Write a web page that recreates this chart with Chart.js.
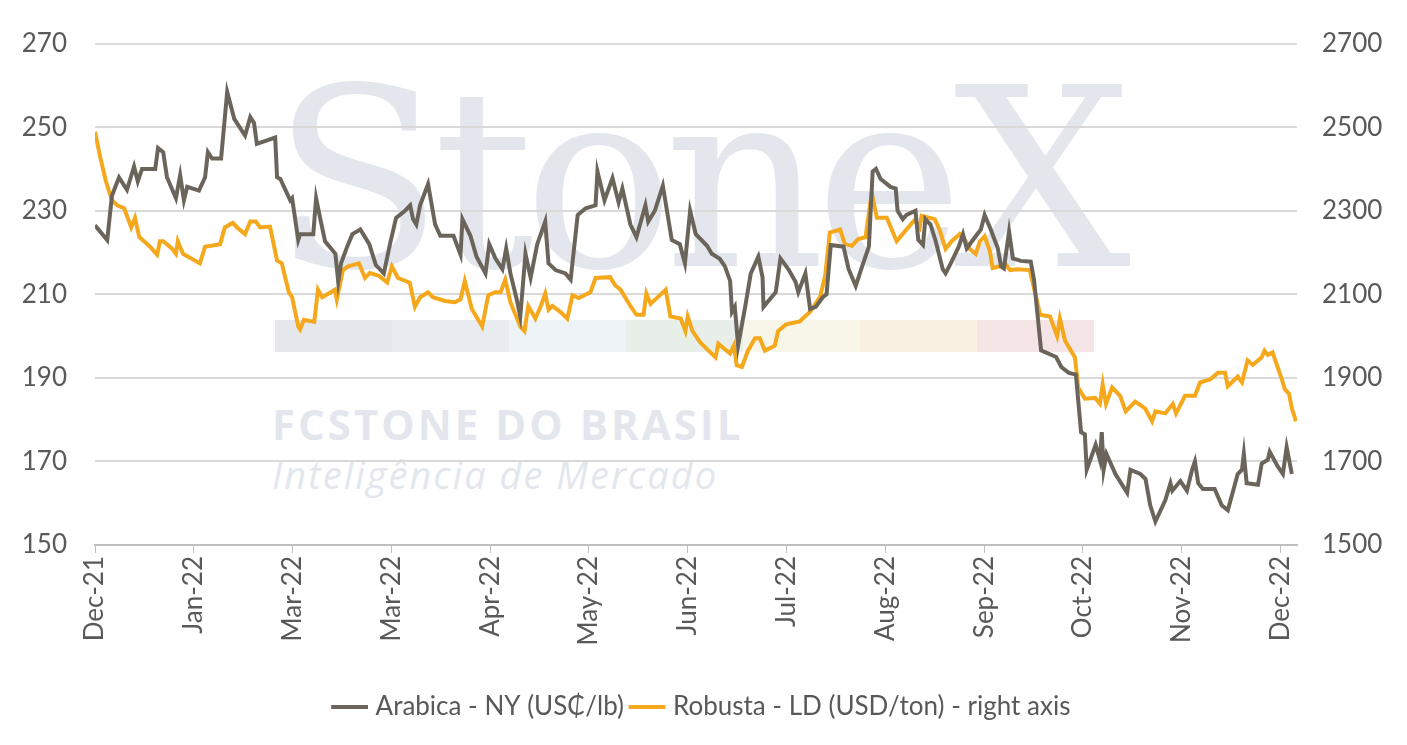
<!DOCTYPE html>
<html>
<head>
<meta charset="utf-8">
<script src="https://cdn.jsdelivr.net/npm/chart.js@4"></script>
<style>
  body { margin: 0; background: #fff; }
  #wrap { position: relative; width: 1407px; height: 745px; overflow: hidden; }
  .wm { position: absolute; color: #e3e7ed; white-space: nowrap; }
  #wm1 { left: 272px; top: 55px; font: 250px "DejaVu Serif", serif; line-height: 250px; letter-spacing: -10px; }
  #wm2 { left: 272px; top: 395px; font: bold 42px "Open Sans", sans-serif; letter-spacing: 3px; }
  #wm3 { left: 272px; top: 448px; font: italic 38px "Open Sans", sans-serif; letter-spacing: 2px; }
  #bars { position: absolute; left: 275px; top: 320px; height: 32px; display: flex; }
  #bars div { width: 117px; height: 32px; }
  canvas { position: absolute; left: 0; top: 0; }
</style>
</head>
<body>
<div id="wrap">
  <div class="wm" id="wm1">StoneX</div>
  <div id="bars">
    <div style="background:#e4e7ec"></div><div style="background:#e8ecf0"></div><div style="background:#eef3f7"></div>
    <div style="background:#e8efe9"></div><div style="background:#f8f6e8"></div><div style="background:#f9f0e2"></div><div style="background:#f5e5e6"></div>
  </div>
  <div class="wm" id="wm2">FCSTONE DO BRASIL</div>
  <div class="wm" id="wm3">Inteligência de Mercado</div>
  <canvas id="chart" width="1407" height="745"></canvas>
</div>
<script>
// x = trading day since start, month tick every 21 days
const tickLabels = ["Dec-21", "Jan-22", "Mar-22", "Mar-22", "Apr-22", "May-22", "Jun-22", "Jul-22", "Aug-22", "Sep-22", "Oct-22", "Nov-22", "Dec-22"];

const arabicaDays = [0,2.6,3.6,5.1,6.8,8.3,9.1,10,12.8,13.4,14.5,15.3,17.2,18.1,18.9,19.6,22.1,23.4,24,24.9,26.8,28.1,29.6,31.9,33,33.8,34.4,38.3,38.7,39.4,41.5,41.9,43.2,43.6,46.4,47,47.9,48.9,51.1,51.7,52.3,53.6,54.7,56.4,58.3,59.7,61.4,62.7,64,65.9,67,67.6,68.3,69.1,70.8,72.3,73.4,76.2,77.7,78.1,79.8,81.1,83,83.8,85.1,86.6,87.4,88.3,89.6,90.4,91.5,92.6,94,95.7,96.4,97.9,100,101.1,102.6,104.3,106.4,106.8,108.3,110,111.3,112.1,113.8,115.1,117,117.6,119,120.7,122.6,124.3,125.4,126.5,127.7,130.1,131.1,132.8,133.9,135,135.4,136,136.7,138.2,139.4,141,141.9,142.1,144.7,145.7,147.4,148.9,149.5,151,152,153.2,154.7,155.5,156.4,159.1,160.2,161.7,162.8,164.5,165.3,166,167,169.1,170.2,170.6,171.7,172.5,174.4,175,176,176.5,177.6,178.7,180.2,180.8,181.9,183.6,184.5,185.3,186.6,188.3,189.1,190.4,191.9,192.6,193.2,194.3,195.1,196.8,198.9,199.6,201.1,204.3,205.4,207,208.5,209.6,210.4,210.8,212.7,213.6,214,214.4,215,216.9,219.4,220.1,222.2,223.3,224.3,225.4,227.5,228.6,229,230.7,232.1,233.2,233.8,234.5,235.5,238,239.5,240.8,242.9,243.8,244.2,244.8,247.2,248,249.3,249.7,251.4,252.5,253.3,254.4];
const arabicaValues = [226.5,223,233.6,238,235,240.6,237,240,240,245,244,238,233,238.5,232.5,235.7,234.8,238,244,242.5,242.5,258.4,252,248,252.4,251,246,247.5,238,237.6,232.5,233,223,224.4,224.4,233,228,222.7,219.7,213,217.4,221.4,224.4,225.5,222,217,215,222,228.3,230,231.3,228,226.7,231.3,236.4,226.7,224,224,219.5,228,224,219,215,222,218.6,216,221,215,209,204.7,219.7,214,222,227.4,217.4,215.8,215,213.5,229,230.6,231.3,239.4,232.5,237.8,232,235.3,226.7,223.7,231.3,227.4,230,236,223,222,217.4,230,224.4,221.6,219.7,218.5,216.7,213.2,205.8,207,197.7,207,215,219,214,207,210.5,218.6,216,213,210.5,215,206.5,207,209.3,210,221.8,221.4,216,212,215.8,221.4,239.4,240,237.6,235.7,235.3,230,228,229,230,223,221.8,228,226.7,222.7,216,215,217.4,221.4,224.4,221,223,225.5,229,225.5,221,216.7,216.2,225,218.6,218,217.8,213.5,196.6,195,192.6,191.2,190.8,177,176.5,168,174,170.4,177,168,171.8,167,162.5,168,167,165.8,159.5,155.6,160.7,164.8,163,165.3,163,168,170,164.8,163.4,163.4,159.5,158.3,167,168,171.8,164.8,164.4,169.5,170.4,172.3,168.8,167,173.4,167];

const robustaDays = [0,1.1,2.3,3.6,4.7,6.2,7.7,8.5,9.4,11.7,13.2,13.8,14.5,16.4,17.2,17.6,18.7,19.8,22.3,23.4,26.6,27.6,29.3,30.2,31.9,33,34.2,35.1,37.2,38.7,39.7,41.2,41.9,43.2,43.6,44.4,46.6,47.4,48.3,51,51.4,52.7,53.8,56.1,57.4,58.4,60.4,62.1,63.1,64.4,66.9,68,69.1,70.8,71.8,74.4,76.5,77.7,78.6,80.1,82.3,83.6,85.1,86.2,87.2,88.3,90.4,91.3,92.1,93.6,94.7,95.7,96.4,97.2,98.9,100.4,101.5,102.8,105.3,106.4,109.5,110.6,111.7,113.8,115.1,116.6,117.2,118.1,121.3,122.3,124.5,125.5,126,127,128.7,130.8,131.9,132.5,135,135.8,136.4,137.5,138.8,140.3,141.3,142.4,144.5,145.2,146.9,149.8,150.9,152,154.1,155.2,156.2,158.4,159.4,160.9,162.2,163.8,165.1,166.2,168.3,170.4,172.1,174.2,175.3,175.7,178.5,179.5,180.8,182.1,183.8,185.1,185.9,187.2,188.1,189.1,190.2,190.8,192.3,193.4,194.5,196,198.7,199.8,200.9,203,203.6,204.5,205.1,206.2,208.3,209,210.4,212.6,213.6,214.2,214.9,216.2,217.9,219.1,221.1,223.2,224.7,225.4,227.5,229.1,229.8,231.7,233.8,234.9,237,238.7,240.2,240.8,242.9,243.8,245,246.1,248,248.6,249.3,250.3,252.3,252.9,253.8,254.4,255.3];
const robustaValues = [2489,2429,2371,2325,2313,2306,2260,2283,2237,2214,2195,2227,2227,2209,2197,2227,2197,2190,2174,2214,2220,2260,2271,2260,2244,2274,2274,2260,2262,2181,2174,2105,2093,2023,2016,2039,2034,2111,2093,2111,2088,2158,2167,2174,2139,2151,2144,2128,2167,2139,2128,2070,2093,2105,2093,2084,2081,2088,2132,2065,2023,2098,2105,2105,2135,2081,2023,2012,2072,2042,2070,2102,2063,2072,2058,2042,2098,2091,2105,2139,2141,2121,2111,2072,2051,2051,2102,2077,2111,2047,2042,2012,2047,2012,1984,1961,1949,1982,1958,1977,1930,1926,1965,1995,1995,1965,1977,2012,2028,2035,2047,2058,2093,2144,2248,2255,2220,2216,2232,2237,2343,2283,2283,2227,2250,2278,2260,2288,2280,2255,2209,2227,2244,2227,2209,2197,2227,2239,2204,2163,2167,2174,2158,2160,2158,2105,2051,2047,2028,2000,2042,1989,1949,1877,1850,1852,1838,1884,1838,1877,1857,1820,1843,1827,1796,1820,1815,1838,1815,1857,1857,1889,1896,1912,1912,1880,1903,1889,1942,1931,1949,1965,1955,1961,1896,1873,1862,1827,1796];

const textColor = "#595959";
const font = { family: "Lato, 'Open Sans', sans-serif", size: 26 };

new Chart(document.getElementById("chart"), {
  type: "line",
  data: {
    datasets: [
      {
        label: "Arabica - NY (US₵/lb)",
        data: arabicaDays.map((d, i) => ({ x: d, y: arabicaValues[i] })),
        borderColor: "#6b645a",
        backgroundColor: "#6b645a",
        borderWidth: 4,
        pointRadius: 0,
        tension: 0,
        yAxisID: "y"
      },
      {
        label: "Robusta - LD (USD/ton) - right axis",
        data: robustaDays.map((d, i) => ({ x: d, y: robustaValues[i] })),
        borderColor: "#f5a81c",
        backgroundColor: "#f5a81c",
        borderWidth: 4,
        pointRadius: 0,
        tension: 0,
        yAxisID: "y1"
      }
    ]
  },
  options: {
    responsive: false,
    animation: false,
    layout: { padding: { left: 0, right: 0, top: 3, bottom: 15 } },
    plugins: {
      tooltip: { enabled: false },
      legend: {
        position: "bottom",
        labels: {
          color: textColor, font: font, usePointStyle: true, pointStyle: "line",
          boxWidth: 44, padding: 10
        }
      }
    },
    scales: {
      x: {
        type: "linear", min: 0, max: 255.5,
        afterBuildTicks: (axis) => { axis.ticks = tickLabels.map((_, i) => ({ value: i * 21 })); },
        afterFit: (axis) => { axis.height = 139; },
        ticks: {
          color: textColor, font: font, maxRotation: 90, minRotation: 90, autoSkip: false,
          callback: (v) => tickLabels[Math.round(v / 21)]
        },
        grid: { drawOnChartArea: false, drawTicks: true, tickLength: 8, color: "#bfbfbf" },
        border: { color: "#bfbfbf", width: 2 }
      },
      y: {
        position: "left", min: 150, max: 270,
        afterFit: (axis) => { axis.width = 95; },
        ticks: { stepSize: 20, color: textColor, font: font, padding: 28 },
        grid: { color: "#d9d9d9", lineWidth: 2, drawTicks: false },
        border: { display: false }
      },
      y1: {
        position: "right", min: 1500, max: 2700,
        afterFit: (axis) => { axis.width = 110; },
        ticks: { stepSize: 200, color: textColor, font: font, padding: 25, callback: (v) => String(v) },
        grid: { drawOnChartArea: false, drawTicks: false },
        border: { display: false }
      }
    }
  }
});
</script>
</body>
</html>
